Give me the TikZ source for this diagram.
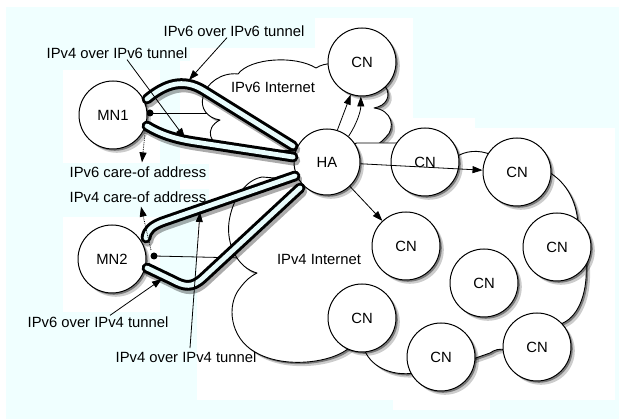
\documentclass[tikz,border=0pt]{standalone}
\usepackage{fontspec}
\setmainfont{Liberation Sans}
\usetikzlibrary{arrows.meta,shadows}
\definecolor{bgc}{RGB}{240,255,255}
\definecolor{tubec}{RGB}{232,251,251}
\begin{document}
\begin{tikzpicture}[x=1pt,y=-1pt,
  font=\fontsize{14.8pt}{17pt}\selectfont,
  lab/.style={fill=bgc,inner sep=3pt},
  shade/.style={drop shadow={shadow xshift=1.8pt,shadow yshift=-1.8pt,opacity=.4,fill=black},
                drop shadow={shadow xshift=3.8pt,shadow yshift=-3.8pt,opacity=.2,fill=black}},
  host/.style={circle,draw,line width=1pt,fill=white,minimum size=68pt,inner sep=0pt,shade},
  cloudp/.style={draw,line width=0.9pt,fill=white,line join=round,shade},
  tube/.style={line width=3pt,double=tubec,double distance=4.8pt,line cap=round,line join=round},
  tubeshade/.style={line width=10.5pt,line cap=round,line join=round,black,opacity=.33,transform canvas={shift={(2pt,-3.5pt)}}},
  arr/.style={line width=0.8pt,-{Triangle[length=10pt,width=7pt]}},
  dotarr/.style={arr,densely dotted},
  dotn/.style={circle,fill=black,inner sep=0pt,minimum size=7pt},
  plain/.style={line width=0.8pt},
]
\useasboundingbox (0,0) rectangle (619,419);
% page and tiles
\fill[white] (0,0) rectangle (619,419);
\fill[bgc] (6,7) rectangle (619,419);
\fill[white] (63,70) rectangle (160,163);
\fill[white] (63,217) rectangle (160,312);
\fill[white] (180,48) rectangle (330,190);
\fill[white] (315,18) rectangle (413,118);
\fill[white] (197,118) rectangle (475,400);
\fill[white] (197,128) rectangle (615,400);
\fill[white] (393,400) rectangle (490,410);

% labels
\node[lab] (l1) at (234,31) {IPv6 over IPv6 tunnel};
\node[lab] (l2) at (117,53) {IPv4 over IPv6 tunnel};
\node[lab] (l3) at (138,172) {IPv6 care-of address};
\node[lab] (l4) at (138,197) {IPv4 care-of address};
\node[lab] (l7) at (98,322) {IPv6 over IPv4 tunnel};
\node (l8) at (186,357) {IPv4 over IPv4 tunnel};

% interface dots and their links
\coordinate (e1) at (214,113);
\coordinate (e2) at (242,258);
\node[dotn] (d1) at (150,113) {};
\node[dotn] (d2) at (154,256) {};
\draw[plain] (d1.center) -- (e1);
\draw[plain] (d2.center) -- (e2);

% IPv6 cloud
\path[cloudp] (220,120) .. controls (207,118) and (200,108) .. (203,97)
  .. controls (206,83) and (222,72) .. (238,74)
  .. controls (250,58) and (295,55) .. (316,68)
  .. controls (325,62) and (340,62) .. (350,70)
  -- (385,86)
  .. controls (392,96) and (386,106) .. (374,108)
  .. controls (392,110) and (396,128) .. (386,137)
  .. controls (378,146) and (368,151) .. (356,151)
  -- (230,150)
  .. controls (208,146) and (204,128) .. (220,120) -- cycle;
\node (l5) at (273,87) {IPv6 Internet};

% IPv4 cloud
\path[cloudp] (330,150) -- (357,143) -- (398,143) -- (440,150) -- (456,157)
  .. controls (465,151) and (478,149) .. (492,155) -- (545,170)
  .. controls (565,180) and (577,200) .. (578,225) -- (586,262)
  .. controls (588,290) and (580,315) .. (563,323) -- (540,340) -- (506,350)
  .. controls (500,348) and (494,350) .. (490,353) -- (470,360) -- (420,372)
  .. controls (395,378) and (372,368) .. (365,351) -- (350,347)
  .. controls (335,362) and (285,370) .. (255,352)
  .. controls (230,338) and (226,305) .. (240,288)
  .. controls (246,280) and (251,276) .. (257,273)
  .. controls (238,268) and (226,245) .. (229,222)
  .. controls (232,200) and (245,180) .. (262,177)
  -- (300,180) -- (320,185) -- cycle;
\node (l6) at (319,259) {IPv4 Internet};

% hosts
\node[host] (MN1) at (113,115) {MN1};
\node[host] (MN2) at (112,259) {MN2};
\node[host,minimum size=66pt] (HA) at (327,162) {HA};
\node[host] (CN1) at (362,62) {CN};
\node[host] (CN2) at (425,162) {CN};
\node[host] (CN3) at (517,172) {CN};
\node[host] (CN4) at (406,246) {CN};
\node[host] (CN5) at (557,247) {CN};
\node[host] (CN6) at (484,283) {CN};
\node[host] (CN7) at (362,318) {CN};
\node[host] (CN8) at (441,357) {CN};
\node[host] (CN9) at (537,347) {CN};

% tubes
\coordinate (tA) at (293,146);
\coordinate (tB) at (293,157);
\coordinate (tC) at (295,176);
\coordinate (tD) at (300,188);
\draw[tubeshade] (147,99) .. controls (165,84) and (183,78) .. (203,90) -- (tA);
\draw[tubeshade] (147,126) .. controls (160,134) and (175,139) .. (195,142) -- (tB);
\draw[tubeshade] (146,238) .. controls (147,230) and (152,226) .. (162,222) -- (tC);
\draw[tubeshade] (147,268) -- (172,280) .. controls (185,287) and (192,288) .. (203,278) -- (tD);
\draw[tube] (147,99) .. controls (165,84) and (183,78) .. (203,90) -- (tA);
\draw[tube] (147,126) .. controls (160,134) and (175,139) .. (195,142) -- (tB);
\draw[tube] (146,238) .. controls (147,230) and (152,226) .. (162,222) -- (tC);
\draw[tube] (147,268) -- (172,280) .. controls (185,287) and (192,288) .. (203,278) -- (tD);

% label arrows
\coordinate (a1e) at (189,80);
\coordinate (a2e) at (185,138);
\coordinate (a7e) at (162,279);
\coordinate (a8e) at (200,212);
\draw[arr] ([xshift=-7pt,yshift=2pt]l1.south) -- (a1e);
\draw[arr] ([xshift=10pt,yshift=2pt]l2.south) -- (a2e);
\draw[arr] ([xshift=12pt,yshift=-2pt]l7.north) -- (a7e);
\draw[arr] ([xshift=4pt]l8.north) -- (a8e);

% care-of address arrows
\coordinate (c1) at (145,133);
\coordinate (c2) at (151,250);
\draw[dotarr] (c1) -- ([xshift=4pt,yshift=1pt]l3.north);
\draw[dotarr] (c2) -- ([xshift=3pt,yshift=-1pt]l4.south);

% HA to CNs
\draw[arr] (HA.72) -- (CN1.251);
\draw[arr] (HA.50) .. controls +(8,-12) and +(0,15) .. (CN1.268);
\draw[arr] (HA) -- (CN3);
\draw[arr] (HA) -- (CN4);
\end{tikzpicture}
\end{document}
